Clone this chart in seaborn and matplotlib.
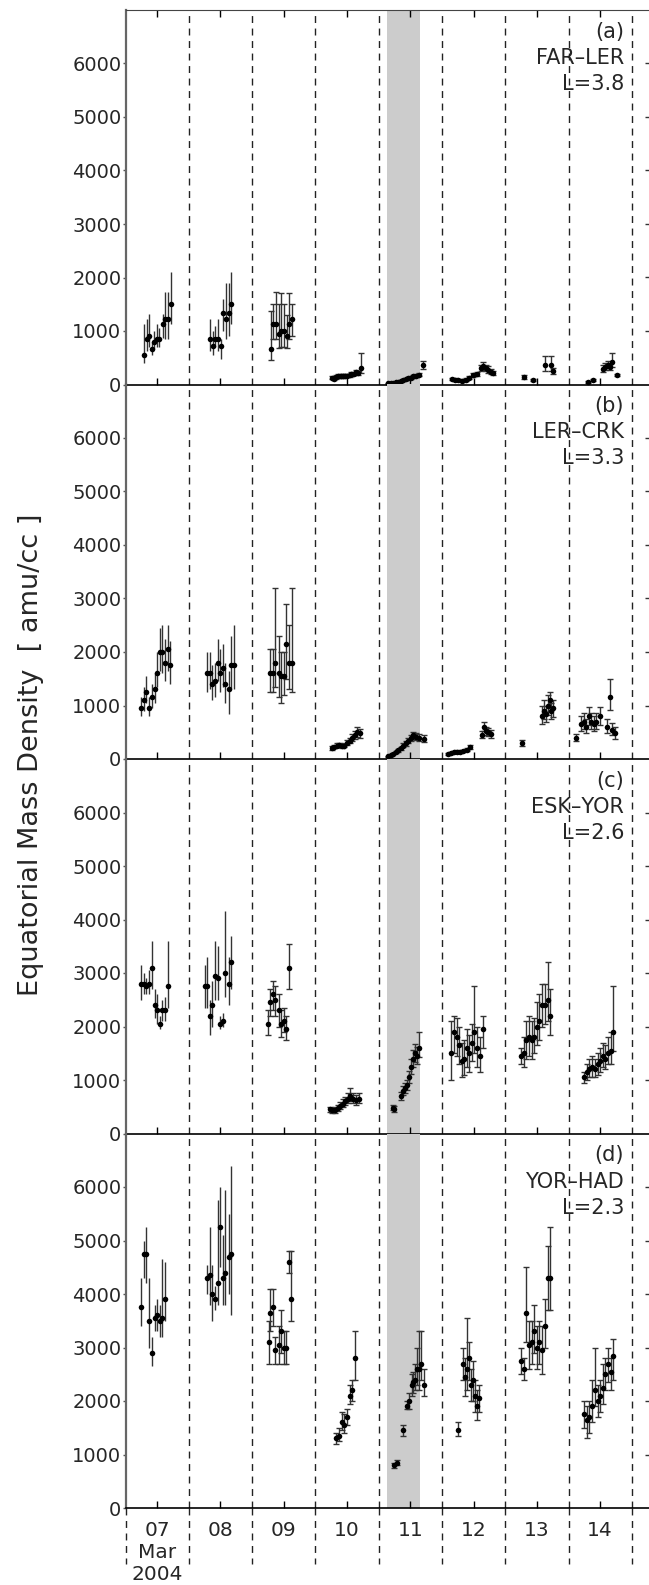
import numpy as np
import pandas as pd
import matplotlib
matplotlib.use("Agg")
import matplotlib.pyplot as plt
import seaborn as sns

# ---------------- data ----------------
# Panel (a) FAR-LER
a_t = [7.295, 7.333, 7.374, 7.417, 7.453, 7.491, 7.532, 7.586, 7.627, 7.670, 7.712,
       8.334, 8.376, 8.417, 8.460, 8.502, 8.544, 8.586, 8.629, 8.670,
       9.293, 9.334, 9.377, 9.419, 9.461, 9.504, 9.546, 9.587, 9.630,
       10.26, 10.29, 10.33, 10.36, 10.40, 10.43, 10.47, 10.50, 10.54, 10.57, 10.61, 10.64, 10.68, 10.72,
       11.15, 11.19, 11.23, 11.27, 11.31, 11.35, 11.39, 11.43, 11.47, 11.51, 11.55, 11.59, 11.63, 11.70,
       12.152, 12.204, 12.257, 12.310, 12.378, 12.431, 12.494, 12.557, 12.616, 12.652, 12.695, 12.732, 12.774, 12.810,
       13.295, 13.442, 13.627, 13.717, 13.748,
       14.31, 14.39, 14.54, 14.575, 14.618, 14.654, 14.69, 14.76]
a_v = [547, 851, 914, 664, 795, 851, 851, 1130, 1224, 1224, 1504,
       851, 727, 851, 851, 727, 1336, 1224, 1336, 1504,
       664, 1130, 1130, 944, 1007, 1007, 914, 1130, 1224,
       130, 100, 140, 160, 160, 160, 165, 165, 170, 190, 205, 230, 220, 310,
       20, 25, 30, 40, 55, 70, 85, 100, 115, 130, 150, 165, 180, 360,
       105, 92, 80, 74, 92, 124, 174, 199, 311, 355, 311, 280, 237, 218,
       137, 80, 360, 360, 249,
       50, 80, 292, 336, 367, 336, 429, 174]
a_lo = [403, 622, 700, 550, 660, 700, 700, 870, 845, 845, 1130,
        622, 560, 700, 622, 470, 1000, 845, 900, 1130,
        467, 858, 858, 690, 700, 700, 690, 858, 901,
        100, 75, 110, 130, 130, 130, 135, 135, 140, 155, 170, 190, 180, 217,
        10, 15, 20, 30, 40, 55, 70, 80, 95, 105, 125, 140, 150, 298,
        80, 70, 60, 55, 70, 95, 140, 160, 250, 280, 250, 220, 190, 175,
        100, 65, 260, 260, 200,
        35, 60, 230, 270, 300, 270, 330, 150]
a_hi = [1130, 1218, 1324, 790, 1000, 1130, 1050, 1324, 1728, 1728, 2100,
        1224, 1000, 1100, 1224, 850, 1600, 1900, 1900, 2100,
        1380, 1504, 1728, 1504, 1710, 1504, 1300, 1710, 1504,
        160, 125, 170, 190, 190, 190, 195, 195, 200, 225, 240, 270, 260, 590,
        30, 35, 40, 50, 70, 85, 100, 120, 135, 155, 175, 190, 210, 435,
        130, 115, 100, 95, 115, 155, 210, 240, 370, 420, 370, 340, 290, 260,
        175, 95, 540, 540, 310,
        65, 100, 360, 400, 440, 400, 590, 200]

# Panel (b) LER-CRK
b_t = [7.25, 7.29, 7.33, 7.37, 7.42, 7.46, 7.50, 7.54, 7.58, 7.63, 7.67, 7.71,
       8.29, 8.33, 8.37, 8.42, 8.46, 8.50, 8.54, 8.58, 8.63, 8.67, 8.71,
       9.29, 9.33, 9.37, 9.42, 9.46, 9.50, 9.54, 9.58, 9.63,
       10.26, 10.30, 10.34, 10.38, 10.42, 10.46, 10.50, 10.54, 10.58, 10.62, 10.66, 10.70,
       11.15, 11.19, 11.23, 11.27, 11.31, 11.35, 11.39, 11.43, 11.47, 11.51, 11.55, 11.59, 11.63, 11.72,
       12.09, 12.14, 12.19, 12.24, 12.29, 12.34, 12.39, 12.45, 12.64, 12.67, 12.70, 12.73, 12.77,
       13.27, 13.58, 13.61, 13.64, 13.67, 13.70, 13.73, 13.76,
       14.12, 14.20, 14.24, 14.28, 14.32, 14.36, 14.40, 14.44, 14.50, 14.65, 14.60, 14.69, 14.74]
b_v = [950, 1100, 1250, 950, 1150, 1300, 1600, 2000, 2000, 1800, 2050, 1750,
       1600, 1600, 1400, 1450, 1800, 1600, 1700, 1400, 1300, 1750, 1750,
       1600, 1600, 1800, 1600, 1550, 1550, 2150, 1800, 1800,
       200, 230, 250, 260, 240, 250, 300, 340, 400, 450, 500, 480,
       50, 70, 100, 130, 160, 200, 250, 290, 340, 390, 440, 420, 400, 380,
       100, 110, 130, 140, 130, 150, 170, 220, 450, 600, 520, 500, 470,
       300, 800, 900, 850, 1000, 1100, 900, 950,
       400, 650, 700, 600, 800, 700, 650, 700, 800, 1150, 600, 550, 480]
b_lo = [800, 900, 1050, 800, 950, 1050, 1350, 1650, 1600, 1450, 1650, 1400,
        1250, 1300, 1100, 1150, 1450, 1250, 1350, 1050, 850, 1300, 1300,
        1250, 1250, 1350, 1150, 1050, 1200, 1500, 1300, 1250,
        170, 200, 215, 225, 205, 215, 260, 290, 340, 380, 420, 400,
        40, 60, 85, 110, 135, 170, 215, 250, 290, 330, 380, 360, 340, 320,
        80, 90, 110, 115, 110, 125, 145, 185, 390, 520, 450, 430, 400,
        250, 650, 750, 700, 820, 900, 750, 780,
        340, 520, 560, 480, 640, 560, 520, 560, 640, 920, 480, 440, 380]
b_hi = [1150, 1350, 1550, 1150, 1400, 1600, 2000, 2450, 2500, 2250, 2500, 2200,
        2000, 2000, 1750, 1800, 2250, 2050, 2150, 1800, 1650, 2300, 2500,
        2050, 2050, 3200, 2300, 2000, 2000, 2900, 2500, 3200,
        240, 270, 290, 300, 280, 290, 350, 400, 470, 530, 590, 570,
        60, 80, 115, 150, 185, 230, 290, 330, 390, 450, 500, 480, 460, 440,
        120, 130, 150, 165, 150, 175, 200, 260, 520, 700, 600, 580, 550,
        350, 1000, 1100, 1000, 1200, 1250, 1050, 1100,
        460, 800, 860, 740, 980, 860, 800, 860, 980, 1500, 740, 680, 590]

# Panel (c) ESK-YOR
c_t = [7.25, 7.29, 7.33, 7.37, 7.42, 7.46, 7.50, 7.54, 7.58, 7.63, 7.67,
       8.25, 8.29, 8.33, 8.37, 8.42, 8.46, 8.50, 8.54, 8.58, 8.63, 8.67,
       9.25, 9.29, 9.33, 9.37, 9.42, 9.46, 9.50, 9.54, 9.58,
       10.23, 10.27, 10.31, 10.35, 10.39, 10.43, 10.47, 10.51, 10.55, 10.59, 10.64, 10.69,
       11.22, 11.25, 11.36, 11.39, 11.42, 11.45, 11.48, 11.51, 11.54, 11.57, 11.60, 11.64,
       12.15, 12.19, 12.23, 12.27, 12.31, 12.35, 12.39, 12.43, 12.47, 12.51, 12.55, 12.60, 12.65,
       13.25, 13.29, 13.33, 13.37, 13.42, 13.46, 13.50, 13.54, 13.58, 13.63, 13.67, 13.71,
       14.25, 14.29, 14.33, 14.37, 14.42, 14.46, 14.50, 14.54, 14.58, 14.63, 14.67, 14.71]
c_v = [2800, 2800, 2750, 2800, 3100, 2400, 2300, 2050, 2300, 2300, 2750,
       2750, 2750, 2200, 2400, 2950, 2900, 2050, 2100, 3000, 2800, 3200,
       2050, 2450, 2600, 2500, 2300, 2050, 2100, 1950, 3100,
       450, 430, 440, 470, 520, 560, 600, 650, 700, 650, 620, 650,
       480, 460, 700, 800, 850, 900, 1050, 1250, 1400, 1500, 1450, 1600,
       1500, 1900, 1800, 1650, 1350, 1400, 1600, 1500, 1700, 1900, 1600, 1450, 1950,
       1450, 1500, 1750, 1800, 1750, 1800, 2000, 2100, 2400, 2400, 2500, 2200,
       1050, 1150, 1200, 1250, 1200, 1300, 1350, 1450, 1400, 1500, 1550, 1900]
c_lo = [2500, 2600, 2600, 2600, 2700, 2150, 2050, 1950, 2100, 2100, 2350,
        2350, 2350, 1850, 2000, 2500, 2500, 1950, 2000, 2550, 2400, 2700,
        1850, 2200, 2300, 2200, 2000, 1800, 1900, 1750, 2700,
        400, 380, 390, 420, 460, 490, 530, 570, 610, 570, 540, 570,
        430, 410, 630, 720, 760, 810, 940, 1120, 1250, 1340, 1300, 1430,
        1000, 1500, 1450, 1300, 1050, 1100, 1250, 1150, 1350, 1500, 1250, 1150, 1600,
        1300, 1250, 1400, 1450, 1400, 1500, 1650, 1750, 2000, 2050, 2100, 1850,
        950, 1000, 1050, 1050, 1050, 1100, 1150, 1250, 1200, 1300, 1300, 1550]
c_hi = [3150, 3000, 2900, 3050, 3600, 2700, 2600, 2200, 2500, 2550, 3600,
        3150, 3300, 2500, 2850, 3600, 3500, 2200, 2250, 4150, 3300, 3700,
        2300, 2700, 2850, 2750, 2600, 2300, 2350, 2200, 3550,
        500, 480, 500, 530, 590, 640, 690, 760, 850, 750, 720, 750,
        530, 510, 780, 890, 950, 1000, 1170, 1400, 1570, 1680, 1620, 1900,
        2100, 2200, 2150, 2000, 1700, 1750, 1950, 1850, 2050, 2750, 2000, 1800, 2200,
        1600, 1800, 2100, 2200, 2100, 2150, 2450, 2600, 2800, 2800, 3200, 2700,
        1150, 1300, 1400, 1450, 1400, 1500, 1600, 1700, 1650, 1800, 1900, 2750]

# Panel (d) YOR-HAD
d_t = [7.25, 7.29, 7.33, 7.37, 7.42, 7.46, 7.50, 7.54, 7.58, 7.63,
       8.29, 8.33, 8.37, 8.42, 8.46, 8.50, 8.54, 8.58, 8.63, 8.67,
       9.26, 9.29, 9.33, 9.37, 9.42, 9.46, 9.50, 9.54, 9.58, 9.62,
       10.33, 10.37, 10.42, 10.46, 10.50, 10.54, 10.58, 10.62,
       11.25, 11.29, 11.39, 11.44, 11.48, 11.52, 11.55, 11.58, 11.61, 11.64, 11.67, 11.71,
       12.26, 12.34, 12.37, 12.40, 12.43, 12.46, 12.49, 12.52, 12.55, 12.58,
       13.25, 13.29, 13.33, 13.37, 13.42, 13.46, 13.50, 13.54, 13.58, 13.63, 13.67, 13.71,
       14.25, 14.29, 14.33, 14.37, 14.42, 14.46, 14.50, 14.54, 14.58, 14.63, 14.67, 14.71]
d_v = [3750, 4750, 4750, 3500, 2900, 3550, 3600, 3500, 3550, 3900,
       4300, 4350, 4000, 3900, 4200, 5250, 4300, 4400, 4700, 4750,
       3100, 3650, 3750, 2950, 3050, 3300, 3000, 3000, 4600, 3900,
       1300, 1350, 1600, 1550, 1700, 2100, 2200, 2800,
       800, 850, 1450, 1900, 2000, 2300, 2350, 2400, 2600, 2600, 2700, 2300,
       1450, 2700, 2450, 2600, 2800, 2300, 2400, 2100, 1900, 2050,
       2750, 2600, 3650, 3050, 3100, 3300, 3000, 3100, 2950, 3400, 4300, 4300,
       1750, 1650, 1700, 1900, 2200, 2000, 2100, 2250, 2500, 2700, 2550, 2850]
d_lo = [3400, 4300, 4200, 3000, 2650, 3300, 3300, 3200, 3200, 3500,
        4000, 3800, 3500, 3700, 3800, 4500, 3800, 3800, 4000, 3600,
        2700, 3300, 3400, 2700, 2700, 2900, 2700, 2700, 4400, 3500,
        1200, 1250, 1450, 1400, 1550, 1950, 2000, 2400,
        750, 800, 1350, 1850, 1850, 2100, 2150, 2200, 2300, 2200, 2400, 2100,
        1350, 2400, 2100, 2200, 2400, 2000, 2000, 1800, 1650, 1800,
        2500, 2400, 3100, 2600, 2700, 2900, 2600, 2700, 2500, 3000, 3700, 3700,
        1500, 1300, 1400, 1600, 1900, 1700, 1800, 1950, 2200, 2350, 2200, 2400]
d_hi = [4300, 5000, 5250, 4300, 3200, 3800, 3900, 3800, 4650, 4600,
        4550, 5250, 4550, 4150, 5750, 6000, 5100, 5950, 5500, 6400,
        3500, 4100, 4100, 3200, 3400, 3700, 3300, 3300, 4800, 4800,
        1400, 1500, 1800, 1750, 1850, 2300, 2400, 3300,
        850, 900, 1550, 2000, 2150, 2500, 2550, 2700, 3000, 3300, 3300, 2600,
        1600, 3000, 2800, 3550, 3100, 2600, 2750, 2400, 2200, 2300,
        3000, 2800, 4500, 3500, 3500, 3800, 3400, 3500, 3400, 3900, 4900, 5250,
        2000, 1900, 2000, 2400, 3000, 2300, 2400, 2700, 2800, 3000, 2800, 3150]

panel_tags = ["(a)", "(b)", "(c)", "(d)"]
panel_pairs = ["FAR\u2013LER", "LER\u2013CRK", "ESK\u2013YOR", "YOR\u2013HAD"]
panel_L = ["L=3.8", "L=3.3", "L=2.6", "L=2.3"]
day_labels = ["07\nMar\n2004", "08", "09", "10", "11", "12", "13", "14"]
y_ticks = [0, 1000, 2000, 3000, 4000, 5000, 6000]
ylabel = "Equatorial Mass Density  [ amu/cc ]"
shade = (11.13, 11.66)

series = [(a_t, a_v, a_lo, a_hi), (b_t, b_v, b_lo, b_hi),
          (c_t, c_v, c_lo, c_hi), (d_t, d_v, d_lo, d_hi)]

# ---------------- figure ----------------
sns.set_style("white")
plt.rcParams['font.family'] = ['DejaVu Sans']

W, H = 649, 1585
fig = plt.figure(figsize=(W / 100, H / 100), dpi=100)

left_px, right_px = 125.5, 652.0
top_px, ph = 10.0, 374.5
px_per_day = 63.29
xmax = 7 + (right_px - left_px) / px_per_day

dash = (0, (5, 4))
axes = []
for i in range(4):
    bottom = 1 - (top_px + (i + 1) * ph) / H
    ax = fig.add_axes([left_px / W, bottom, (right_px - left_px) / W, ph / H])
    axes.append(ax)
    t, v, lo, hi = series[i]
    df = pd.DataFrame({"t": t, "v": v, "lo": lo, "hi": hi})
    df["early"] = df["t"] < 9
    ax.axvspan(shade[0], shade[1], color="#cccccc", lw=0, zorder=0)
    for d in range(8, 16):
        ax.axvline(d, color="#222222", lw=1.0, ls=dash, zorder=1)
    for early, g in df.groupby("early"):
        ax.errorbar(g["t"], g["v"], yerr=[g["v"] - g["lo"], g["hi"] - g["v"]],
                    fmt="none", ecolor="#333333", elinewidth=1.0,
                    capsize=0 if early else 2.5, capthick=1.0, zorder=2)
    sns.scatterplot(data=df, x="t", y="v", ax=ax, color="black", s=16,
                    edgecolor="black", linewidth=0, zorder=3, legend=False)
    ax.set_xlim(7, xmax)
    ax.set_ylim(0, 7000)
    ax.set_xlabel("")
    ax.set_ylabel("")
    ax.set_yticks(y_ticks)
    ax.set_yticklabels([str(y) for y in y_ticks], fontsize=14)
    ax.tick_params(axis="y", direction="out", length=2.5, width=1, pad=0.5,
                   color="#555555", left=True, right=False)
    sec = ax.secondary_yaxis("right")
    sec.set_yticks(y_ticks[1:])
    sec.tick_params(direction="in", length=5, width=1, labelright=False, color="#333333")
    sec.spines["right"].set_visible(False)
    ax.set_xticks([d + 0.5 for d in range(7, 15)])
    ax.tick_params(axis="x", direction="in", length=5, width=1, color="black",
                   bottom=True, top=(i == 0), labelbottom=(i == 3), pad=9)
    if i == 3:
        ax.set_xticklabels(day_labels, fontsize=14.5, linespacing=1.2)
    ax.spines["left"].set_color("#666666")
    ax.spines["left"].set_linewidth(1.6)
    ax.spines["bottom"].set_color("black")
    ax.spines["bottom"].set_linewidth(1.2)
    ax.spines["right"].set_visible(False)
    ax.spines["top"].set_visible(i == 0)
    ax.spines["top"].set_color("#444444")
    xt = 7 + (624 - left_px) / px_per_day
    trans = ax.get_xaxis_transform()
    for k, txt in enumerate([panel_tags[i], panel_pairs[i], panel_L[i]]):
        ax.text(xt, 1 - (22 + 26.0 * k) / ph, txt, transform=trans,
                ha="right", va="center", fontsize=15, zorder=5)
    ax.patch.set_alpha(0)

# dashed lines extending below bottom panel
axb = axes[3]
ext = -56 / ph * 7000
for d in range(7, 16):
    axb.plot([d, d], [0, ext], color="#222222", lw=1.0, ls=dash, clip_on=False, zorder=1)

fig.text(31 / W, 1 - 755 / H, ylabel, rotation=90, ha="center", va="center", fontsize=19.5)

fig.savefig("out.png", dpi=100)
